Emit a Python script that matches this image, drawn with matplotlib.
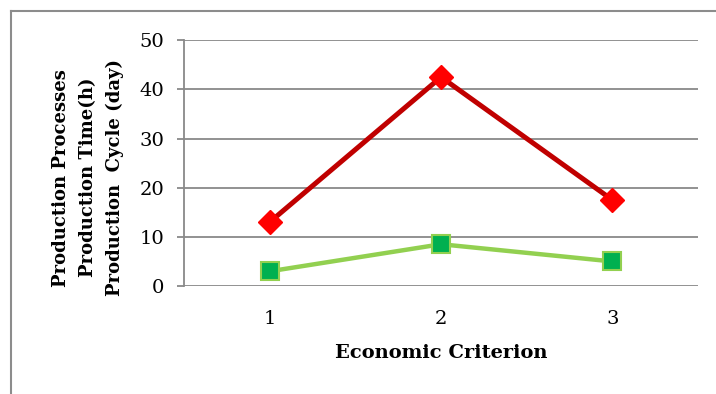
import matplotlib.pyplot as plt
from matplotlib.lines import Line2D

criteria = [1, 2, 3]
series_red = [13, 42.5, 17.5]
series_green = [3, 8.5, 5]
y_ticks = [0, 10, 20, 30, 40, 50]

plt.rcParams['font.family'] = ['DejaVu Serif']

fig = plt.figure(figsize=(7.16, 3.94), dpi=100)
ax = fig.add_axes([0.257, 0.274, 0.718, 0.624])

grid_col = '#898989'
for y in y_ticks:
    ax.axhline(y, color=grid_col, lw=1.3, zorder=1)

ax.plot(criteria, series_red, color='#C00000', lw=3.6, marker='D', ms=12.5,
        markerfacecolor='#FF0000', markeredgecolor='#FF0000', zorder=3)
ax.plot(criteria, series_green, color='#92D050', lw=3.2, marker='s', ms=13,
        markerfacecolor='#00B050', markeredgecolor='#92D050', mew=1.5, zorder=3)

ax.set_xlim(0.5, 3.5)
ax.set_ylim(0, 50)
ax.set_xticks(criteria)
ax.set_yticks(y_ticks)
ax.tick_params(axis='x', length=0, labelsize=14, pad=17)
ax.tick_params(axis='y', length=5, width=1.3, color=grid_col, labelsize=14, pad=9)

for side in ['top', 'right', 'bottom']:
    ax.spines[side].set_visible(False)
ax.spines['left'].set_color(grid_col)
ax.spines['left'].set_linewidth(1.3)

ax.set_xlabel('Economic Criterion', fontsize=14, fontweight='bold', labelpad=12)
fig.text(0.123, 0.549, 'Production Processes\nProduction Time(h)\nProduction  Cycle (day)',
         rotation=90, ha='center', va='center', multialignment='center',
         fontsize=13, fontweight='bold', linespacing=1.65)

# outer frame around the chart
fig.add_artist(Line2D([0.015, 1.0], [0.972, 0.972], color='#8c8c8c', lw=1.5,
                      transform=fig.transFigure))
fig.add_artist(Line2D([0.015, 0.015], [0.0, 0.972], color='#8c8c8c', lw=1.5,
                      transform=fig.transFigure))

fig.savefig('out.png', dpi=100)
